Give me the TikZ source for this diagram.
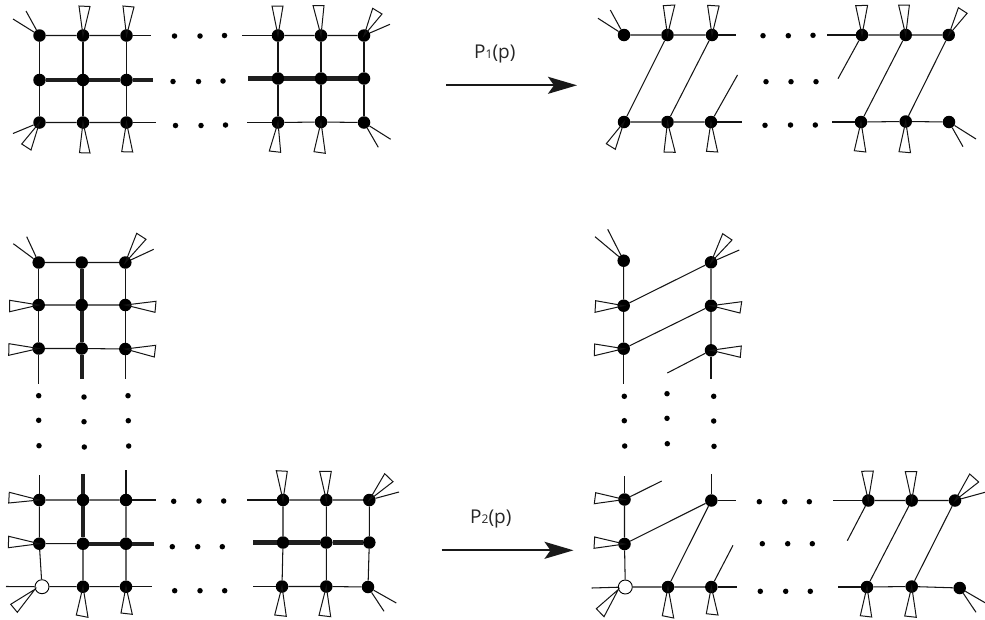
\documentclass[tikz,border=0pt]{standalone}
\usepackage{fontspec}
\setmainfont{Open Sans}
\usetikzlibrary{arrows.meta}
\newcounter{fr}
\tikzset{
  vtx/.style={circle,fill=black,draw=none,inner sep=0pt,minimum size=12.5pt},
  openvtx/.style={circle,fill=white,draw=black,line width=0.9pt,inner sep=0pt,minimum size=14pt},
  smalldot/.style={circle,fill=black,draw=none,inner sep=0pt,minimum size=5.5pt},
  ln/.style={line width=1.05pt,color=black!92},
  thickln/.style={line width=4.2pt,color=black!88},
  wedgeln/.style={line width=1pt,color=black!92,line join=miter},
  maparrow/.style={line width=1.9pt,color=black!90,-{Stealth[length=29pt,width=17pt,inset=6pt]}},
  lab/.style={inner sep=0pt,anchor=base west,font=\fontsize{19}{21}\selectfont,color=black!85}
}
\newcommand{\vx}[2]{\node[vtx] (#1) at (#2) {};}
\newcommand{\pts}[2]{\foreach \p [count=\i] in {#2} {\node[smalldot] (#1\i) at (\p) {};}}
\newcommand{\wdg}[3]{\stepcounter{fr}\coordinate (wa\thefr) at (#2);\coordinate (wb\thefr) at (#3);\draw[wedgeln] (#1) -- (wa\thefr) -- (wb\thefr) -- cycle;}
\newcommand{\stub}[2]{\stepcounter{fr}\coordinate (fr\thefr) at (#2);\draw[ln] (#1) -- (fr\thefr);}
\newcommand{\tstub}[2]{\stepcounter{fr}\coordinate (fr\thefr) at (#2);\draw[thickln] (#1) -- (fr\thefr);}
\begin{document}
\begin{tikzpicture}[x=1pt,y=-1pt]
\useasboundingbox (0,0) rectangle (985,619);
% ---------- panel A
\vx{a11}{39.5,35.5}\vx{a12}{83,35.5}\vx{a13}{126.5,35.5}\vx{a14}{278,35.5}\vx{a15}{321,35.5}\vx{a16}{364,35.5}
\vx{a21}{39.5,80}\vx{a22}{83,80}\vx{a23}{126.5,80}\vx{a24}{278,78.5}\vx{a25}{321,78.5}\vx{a26}{364,78.5}
\vx{a31}{39.5,122.5}\vx{a32}{83,122.5}\vx{a33}{126.5,122.5}\vx{a34}{278,122.5}\vx{a35}{321,122}\vx{a36}{364,122.5}
\draw[ln] (a11)--(a12)--(a13) (a14)--(a15)--(a16) (a31)--(a32)--(a33) (a34)--(a35)--(a36);
\draw[ln] (a11)--(a21)--(a31) (a12)--(a22)--(a32) (a13)--(a23)--(a33) (a14)--(a24)--(a34) (a15)--(a25)--(a35) (a16)--(a26)--(a36);
\draw[thickln] (a21)--(a22)--(a23) (a24)--(a25)--(a26);
\stub{a13}{151,35.5}\stub{a14}{242,35.5}\stub{a33}{156,122.5}\stub{a34}{247,122.5}
\tstub{a23}{152.5,80}\tstub{a24}{247.5,78.5}
\pts{ad}{{174.5,36},{200,36},{224.5,35.5},{173,81.5},{198.5,81.5},{223,81},{175.5,125.5},{201,125.5},{225.5,125}}
\stub{a11}{13,19}\stub{a11}{26,11}
\wdg{a12.center}{79,6}{90,6.5}\wdg{a13.center}{123,6}{134,7}\wdg{a14.center}{272,6}{283,6}\wdg{a15.center}{313,5.5}{324,5.5}
\wdg{a16.center}{372.7,8.3}{382,14}\stub{a16}{390,24.3}
\stub{a31}{13,133.5}\wdg{a31.center}{21.7,144}{31,150}
\wdg{a32.center}{79.5,152.7}{90,153}\wdg{a33.center}{121.7,151.7}{132.7,152}\wdg{a34.center}{269.3,151}{280.7,152.3}\wdg{a35.center}{314,151.7}{325.3,153.3}
\stub{a36}{390.7,139.3}\stub{a36}{378.3,147.3}
% ---------- arrow 1
\coordinate (s1) at (446,85.3);\coordinate (t1) at (577,85.3);
\draw[maparrow] (s1) -- (t1);
\node[lab] (l1) at (474,58.3) {P{\fontsize{12}{14}\selectfont 1}(p)};
% ---------- panel B
\vx{b11}{624,35}\vx{b12}{667.5,35}\vx{b13}{712,35}\vx{b14}{862,35}\vx{b15}{905.7,35}\vx{b16}{948.7,35}
\vx{b31}{624,122}\vx{b32}{667.5,122}\vx{b33}{711,122}\vx{b34}{861,122}\vx{b35}{905.7,121.5}\vx{b36}{949,122}
\draw[ln] (b11)--(b12)--(b13) (b14)--(b15)--(b16) (b31)--(b32)--(b33) (b34)--(b35)--(b36);
\draw[ln] (b12)--(b31) (b13)--(b32) (b15)--(b34) (b16)--(b35);
\stub{b13}{735.7,35}\stub{b14}{827,35}\stub{b33}{741.5,122}\stub{b34}{832.3,122}
\stub{b33}{737.5,75}\stub{b14}{838,78.7}
\pts{bd}{{763,35.7},{788.3,35.7},{813,35.3},{766,81.7},{791,81.7},{816,81.7},{765,125.3},{790.5,125},{815.3,125}}
\stub{b11}{598,18.3}\stub{b11}{610.3,10}
\wdg{b12.center}{663.3,5.7}{674.8,5}\wdg{b13.center}{707.6,5.3}{719.1,6}\wdg{b14.center}{855.7,5.7}{867.6,5.3}\wdg{b15.center}{898.6,5}{909.4,5}\wdg{b16.center}{958.4,7.7}{967.1,13.3}
\wdg{b31.center}{606.3,143.7}{615.3,149.3}\wdg{b32.center}{664,152}{675.2,152.3}\wdg{b33.center}{706.5,151.3}{717.7,152}\wdg{b34.center}{854.3,150.7}{865.8,152}\wdg{b35.center}{899,151.7}{910.5,152.7}
\stub{b36}{976,139}\stub{b36}{963,146.7}
% ---------- panel C
\vx{c11}{38.7,262.5}\vx{c12}{81.7,262.5}\vx{c13}{125.3,262.5}
\vx{c21}{38.7,305}\vx{c22}{81.7,305}\vx{c23}{125.3,305}
\vx{c31}{38.7,348.5}\vx{c32}{81.7,348.5}\vx{c33}{125.3,349}
\draw[ln] (c11)--(c12)--(c13) (c21)--(c22)--(c23) (c31)--(c32)--(c33);
\draw[ln] (c11)--(c21)--(c31) (c13)--(c23)--(c33);
\draw[thickln] (c12)--(c22)--(c32);
\stub{c31}{38.7,384.3}\tstub{c32}{81.7,378.7}\stub{c33}{125.3,378.7}
\pts{cd}{{38.7,395.7},{84,397},{128,395.7},{38.7,420.3},{84,421.7},{128.3,420.7},{39,445.7},{84.3,447},{128.7,446}}
\stub{c11}{13.3,243.7}\stub{c11}{26.7,236.7}
\wdg{c13.center}{136.7,233.3}{146,239.3}\stub{c13}{153.7,249.3}
\wdg{c21.center}{9.7,300.3}{9.7,311.7}\wdg{c23.center}{156,301.3}{155,312.3}
\wdg{c31.center}{9,343.7}{8.7,355.3}\wdg{c33.center}{155.7,345.3}{154.3,357}
% ---------- panel D
\vx{d11}{39.3,500}\vx{d12}{83,500}\vx{d13}{126,500}\vx{d14}{283,500}\vx{d15}{326.3,500}\vx{d16}{369.3,500}
\vx{d21}{39.3,543.7}\vx{d22}{83,543.7}\vx{d23}{126,543.7}\vx{d24}{283,542.5}\vx{d25}{326.3,542.5}\vx{d26}{369.3,542.5}
\node[openvtx] (dw) at (42,586.7) {};
\vx{d32}{83,586.7}\vx{d33}{126,586.7}\vx{d34}{282,586.5}\vx{d35}{326.3,586.5}\vx{d36}{368,587}
\draw[ln] (d11)--(d12)--(d13) (d14)--(d15)--(d16) (d21)--(d22) (dw)--(d32)--(d33) (d34)--(d35)--(d36);
\draw[ln] (d11)--(d21)--(dw) (d22)--(d32) (d13)--(d23)--(d33) (d14)--(d24)--(d34) (d15)--(d25)--(d35) (d16)--(d26)--(d36);
\draw[thickln] (d12)--(d22)--(d23) (d24)--(d25)--(d26);
\stub{d11}{39.3,475}\tstub{d12}{83,474}\stub{d13}{126,470}
\stub{d13}{155.7,500}\stub{d14}{247.3,500}\tstub{d23}{154.3,543.7}\tstub{d24}{252.7,542.5}
\stub{dw}{6,586.5}\stub{d33}{151.7,586.7}\stub{d34}{252.7,586.5}
\pts{dd}{{173.7,501.3},{199,501},{223.7,501},{172.3,546.7},{197.7,546.7},{222.3,546.7},{174.7,590.7},{200,590.7},{224.7,590.7}}
\wdg{d11.center}{9.3,492.3}{8.7,503}\wdg{d21.center}{8.7,536.3}{8.3,547.7}
\wdg{d14.center}{276.3,470.7}{287.3,471.3}\wdg{d15.center}{319.7,471.3}{331.3,471.3}
\wdg{d16.center}{384.7,473.7}{393,481.7}\stub{d16}{399,492}
\wdg{dw.200}{10.7,604.3}{17.3,612.3}
\wdg{d32.center}{76.3,615}{88,617.3}\wdg{d33.center}{121,613}{132.3,614.3}\wdg{d34.center}{274.7,615}{286.3,616.3}\wdg{d35.center}{319,615.3}{330.7,616.7}
\stub{d36}{396.3,603}\stub{d36}{384,611.3}
% ---------- arrow 2
\coordinate (s2) at (441.7,550.3);\coordinate (t2) at (573.5,550.3);
\draw[maparrow] (s2) -- (t2);
\node[lab] (l2) at (470,523.3) {P{\fontsize{12}{14}\selectfont 2}(p)};
% ---------- panel E
\vx{e11}{623.7,260.7}\vx{e13}{711,262.3}
\vx{e21}{623.7,305.7}\vx{e23}{711,305.7}
\vx{e31}{623.7,348.7}\vx{e33}{711,350.3}
\draw[ln] (e11)--(e21)--(e31) (e13)--(e23)--(e33) (e21)--(e13) (e31)--(e23);
\stub{e31}{623.7,384.3}\stub{e33}{711,378.7}\stub{e33}{667.3,373}
\pts{ed}{{624.3,396.3},{667,393.7},{713.7,396.3},{624.3,420.7},{667,418.3},{713.7,421},{624.7,446},{667.3,443.7},{714,446.3}}
\stub{e11}{595,236.7}\stub{e11}{607.7,229.3}
\wdg{e13.center}{722.7,233.7}{732,240}\stub{e13}{739.3,250}
\wdg{e21.center}{595.7,300.7}{595,312.3}\wdg{e23.center}{741.7,301.7}{740,313}
\wdg{e31.center}{594.7,344}{594.3,355.7}\wdg{e33.center}{741.3,346}{740.3,357.3}
% ---------- panel F
\vx{f11}{624.5,499.5}\vx{f13}{711.3,500.5}\vx{f14}{868.3,500.5}\vx{f15}{911.7,500.5}\vx{f16}{955,500.5}
\vx{f21}{624.5,544}
\node[openvtx] (fw) at (625.3,587) {};
\vx{f32}{668,587}\vx{f33}{711.3,587}\vx{f34}{867,587}\vx{f35}{911.7,586.5}\vx{f36}{959.7,588}
\draw[ln] (f11)--(f21)--(fw) (fw)--(f32)--(f33) (f14)--(f15)--(f16) (f34)--(f35)--(f36);
\draw[ln] (f21)--(f13) (f13)--(f32) (f15)--(f34) (f16)--(f35);
\stub{f11}{624.5,476}\stub{f13}{711.3,474}\stub{f13}{735.7,500.5}\stub{f14}{832.7,500.5}
\stub{fw}{591.7,588}\stub{f33}{737,587}\stub{f34}{838.3,587}
\stub{f11}{661.7,481}\stub{f33}{733,545.3}\stub{f14}{847.3,540.7}
\pts{fd}{{759.3,501.7},{784.7,501.7},{809.3,501.7},{762.3,543.7},{787.7,543.7},{812.3,543.7},{760.3,591.3},{785.7,591.3},{810.3,591.3}}
\wdg{f11.center}{595.7,492.7}{594.3,503.7}\wdg{f21.center}{594.7,537}{594,548.3}
\wdg{f14.center}{861.7,471.3}{873.3,471}\wdg{f15.center}{905.3,471.7}{916.7,471.7}
\wdg{f16.center}{969.7,474}{978.7,482}\stub{f16}{985,492.3}
\wdg{fw.200}{596.3,608.7}{604,616.7}
\wdg{f32.center}{662.3,615.7}{673.7,618}\wdg{f33.center}{706.3,613.7}{718,615}\wdg{f34.center}{860.3,615.7}{871.7,617}\wdg{f35.center}{904.7,616}{916.3,617.3}
\stub{f36}{985,602.7}\stub{f36}{976,612.3}
\end{tikzpicture}
\end{document}
